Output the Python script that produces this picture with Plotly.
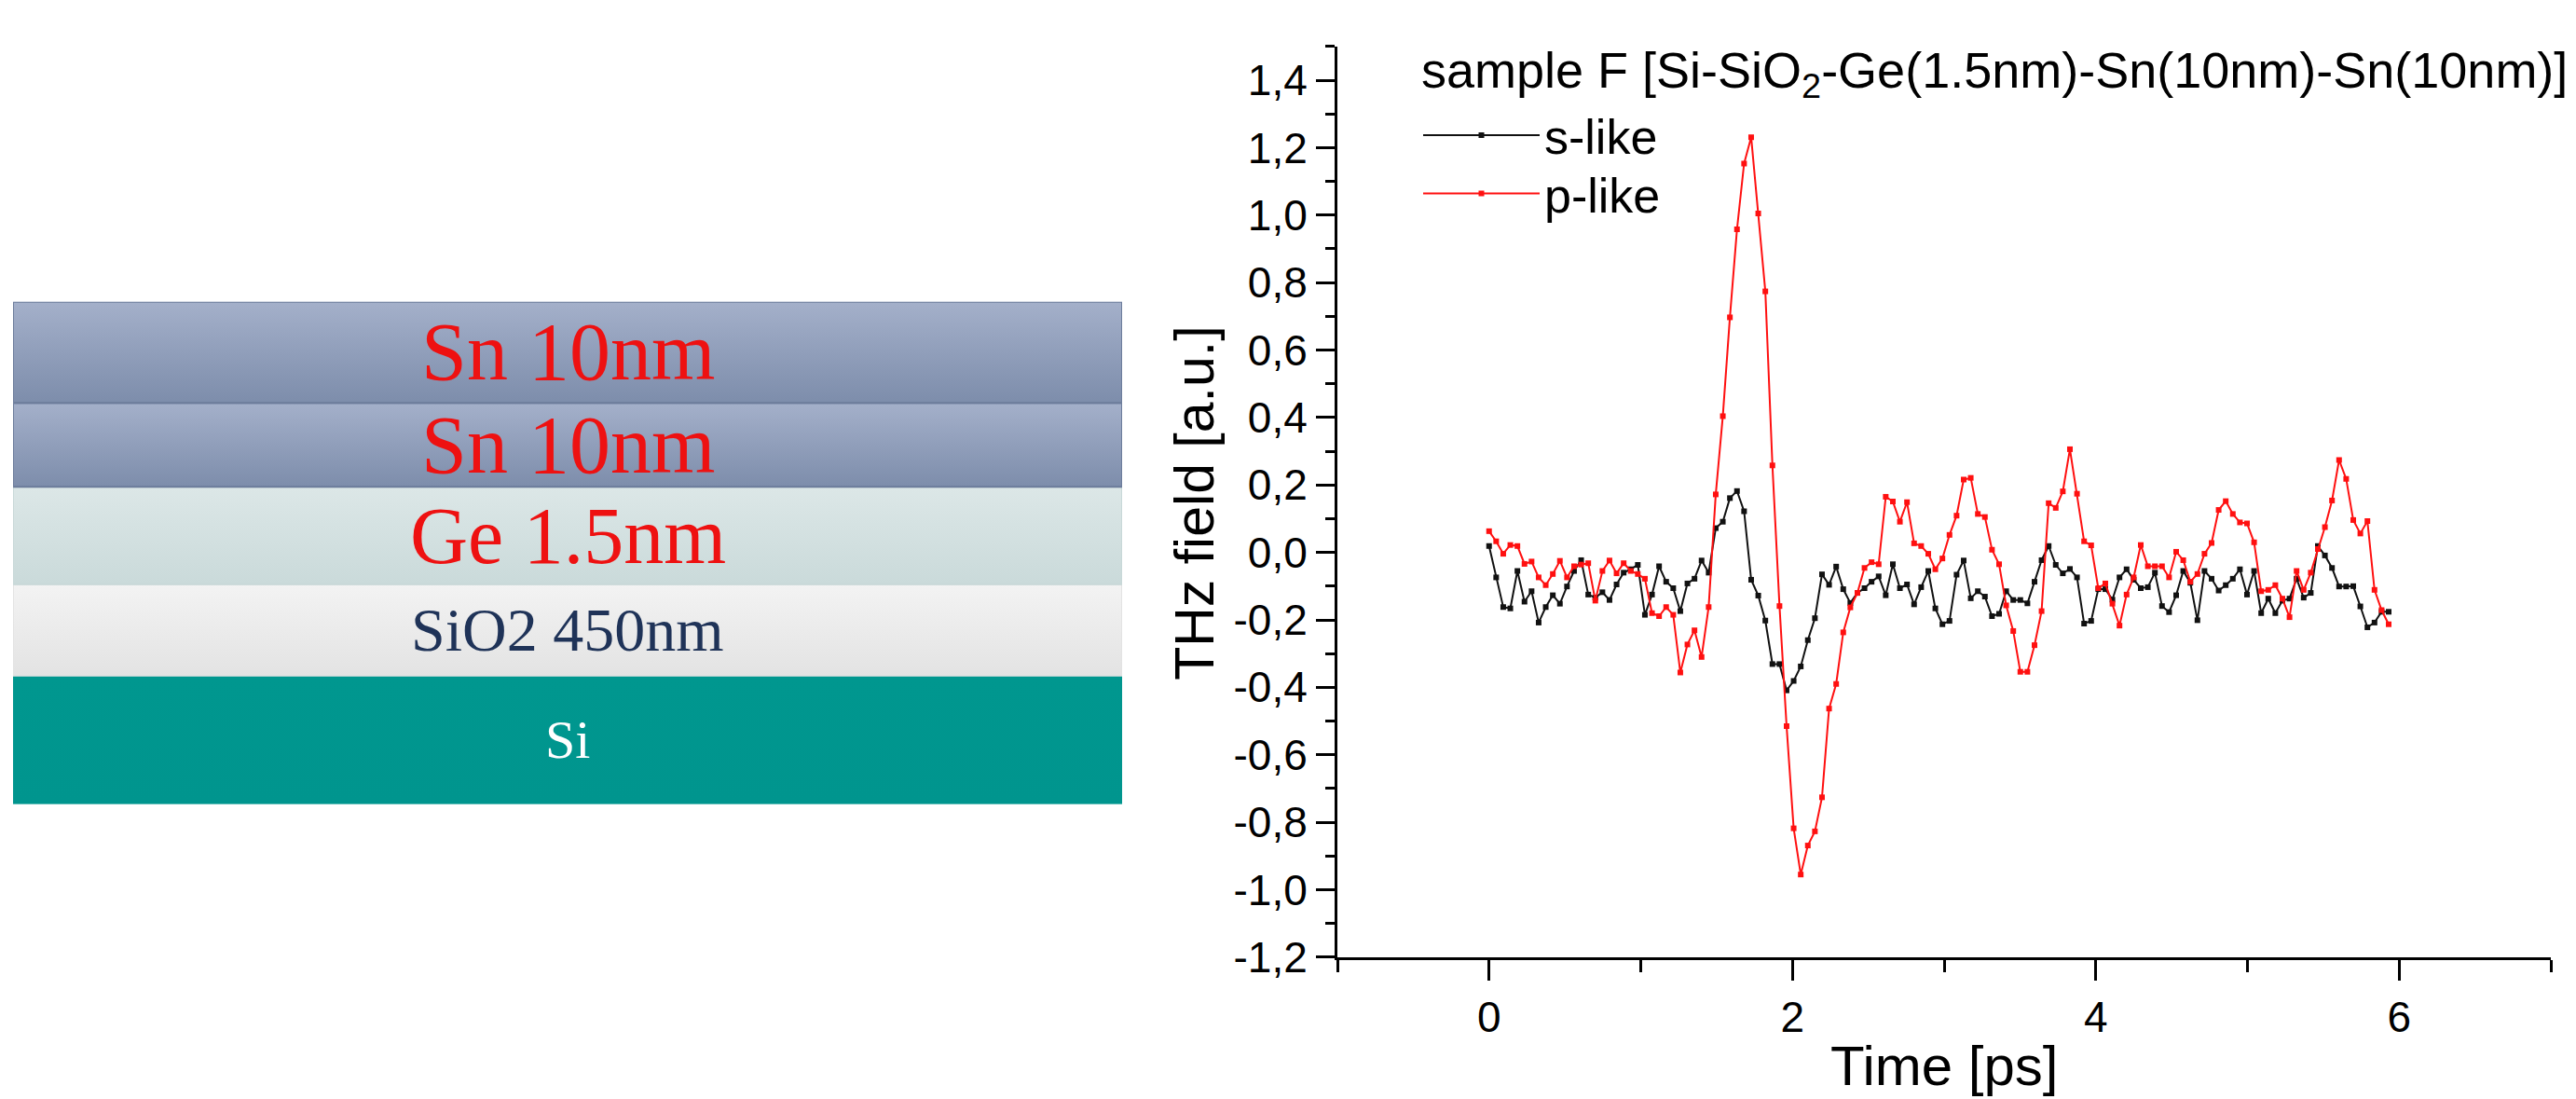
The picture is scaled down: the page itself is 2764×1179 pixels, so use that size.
import plotly.graph_objects as go

W, H = 2764, 1179

# ---------------- data ----------------
time_step_ps = 0.0467

s_like = [0.019, -0.074, -0.162, -0.166, -0.055, -0.146, -0.115, -0.208, -0.162, -0.127,
          -0.152, -0.101, -0.055, -0.023, -0.125, -0.134, -0.118, -0.141, -0.095, -0.060,
          -0.050, -0.037, -0.185, -0.125, -0.041, -0.087, -0.106, -0.174, -0.092, -0.078,
          -0.024, -0.060, 0.072, 0.091, 0.161, 0.182, 0.122, -0.081, -0.128, -0.202,
          -0.331, -0.331, -0.409, -0.381, -0.338, -0.260, -0.195, -0.065, -0.096, -0.042,
          -0.109, -0.150, -0.120, -0.106, -0.087, -0.071, -0.127, -0.035, -0.106, -0.095,
          -0.154, -0.103, -0.055, -0.166, -0.213, -0.203, -0.066, -0.024, -0.136, -0.115,
          -0.131, -0.189, -0.182, -0.115, -0.141, -0.141, -0.151, -0.087, -0.023, 0.019,
          -0.037, -0.062, -0.049, -0.074, -0.211, -0.203, -0.109, -0.109, -0.140, -0.074,
          -0.050, -0.081, -0.106, -0.103, -0.060, -0.159, -0.177, -0.127, -0.055, -0.090,
          -0.201, -0.055, -0.078, -0.113, -0.097, -0.078, -0.050, -0.125, -0.055, -0.180,
          -0.137, -0.180, -0.143, -0.137, -0.078, -0.134, -0.120, 0.019, -0.009, -0.046,
          -0.101, -0.101, -0.100, -0.160, -0.222, -0.208, -0.176, -0.176]

p_like = [0.063, 0.033, -0.004, 0.022, 0.019, -0.034, -0.027, -0.074, -0.097, -0.064,
          -0.025, -0.074, -0.041, -0.036, -0.032, -0.143, -0.055, -0.024, -0.062, -0.032,
          -0.055, -0.064, -0.078, -0.180, -0.189, -0.162, -0.185, -0.356, -0.273, -0.231,
          -0.310, -0.162, 0.172, 0.404, 0.697, 0.958, 1.153, 1.231, 1.005, 0.774,
          0.258, -0.159, -0.515, -0.818, -0.955, -0.869, -0.827, -0.726, -0.463, -0.390,
          -0.237, -0.163, -0.120, -0.046, -0.029, -0.035, 0.165, 0.151, 0.091, 0.149,
          0.027, 0.019, -0.004, -0.050, -0.018, 0.052, 0.109, 0.216, 0.221, 0.114,
          0.105, 0.008, -0.035, -0.157, -0.233, -0.354, -0.354, -0.275, -0.174, 0.146,
          0.132, 0.181, 0.306, 0.174, 0.033, 0.021, -0.106, -0.092, -0.152, -0.217,
          -0.125, -0.074, 0.022, -0.041, -0.041, -0.041, -0.074, 0.002, -0.023, -0.087,
          -0.064, -0.004, 0.028, 0.126, 0.152, 0.114, 0.089, 0.086, 0.030, -0.115,
          -0.111, -0.097, -0.137, -0.192, -0.055, -0.111, -0.060, 0.010, 0.075, 0.154,
          0.274, 0.218, 0.096, 0.056, 0.093, -0.111, -0.171, -0.213]

time_ps = [round(i * time_step_ps, 4) for i in range(len(s_like))]

y_tick_vals = [-1.2, -1.0, -0.8, -0.6, -0.4, -0.2, 0.0, 0.2, 0.4, 0.6, 0.8, 1.0, 1.2, 1.4]
y_tick_text = ["-1,2", "-1,0", "-0,8", "-0,6", "-0,4", "-0,2", "0,0",
               "0,2", "0,4", "0,6", "0,8", "1,0", "1,2", "1,4"]
y_minor_vals = [-1.1, -0.9, -0.7, -0.5, -0.3, -0.1, 0.1, 0.3, 0.5, 0.7, 0.9, 1.1, 1.3, 1.5]
x_tick_vals = [0, 2, 4, 6]
x_tick_text = ["0", "2", "4", "6"]
x_minor_vals = [-1, 1, 3, 5, 7]

chart_title = "sample F [Si-SiO<sub>2</sub>-Ge(1.5nm)-Sn(10nm)-Sn(10nm)]"
x_title = "Time [ps]"
y_title = "THz field [a.u.]"

# layer stack, bottom to top
layer_labels = ["Si", "SiO2 450nm", "Ge 1.5nm", "Sn 10nm", "Sn 10nm"]

# ---------------- styles / layout ----------------
layer_draw_px = [141, 100, 107, 92, 111]
layer_top_col = ["#00978F", "#F3F3F3", "#DCE7E7", "#A4B0CA", "#A4B0CA"]
layer_bot_col = ["#00958E", "#E3E3E3", "#CADADA", "#7D8DAB", "#7D8DAB"]
layer_line_col = ["#00958E", "#E3E3E3", "#C8D8D8", "#6C7C9B", "#6C7C9B"]
layer_txt_col = ["#FFFFFF", "#1F3358", "#EE1111", "#EE1111", "#EE1111"]
layer_txt_size = [58, 66, 86, 88, 88]

plot_l, plot_r, plot_t, plot_b = 1435, 2737, 51, 1050
diag_l, diag_r, diag_t = 14, 1204, 331
diag_b = diag_t + sum(layer_draw_px)

SANS = "Liberation Sans, Arial, sans-serif"
SERIF = "Liberation Serif, Times New Roman, serif"

def px(x):
    return x / W

def py(y):
    return (H - y) / H

fig = go.Figure()

# layer diagram on its own hidden axes
base = 0
for i, lab in enumerate(layer_labels):
    top = base + layer_draw_px[i]
    fig.add_trace(go.Scatter(
        x=[0, 1, 1, 0, 0], y=[base, base, top, top, base],
        xaxis="x2", yaxis="y2", mode="lines", fill="toself",
        fillgradient=dict(type="vertical",
                          colorscale=[[0, layer_bot_col[i]], [1, layer_top_col[i]]]),
        line=dict(color=layer_line_col[i], width=2),
        showlegend=False, hoverinfo="skip"))
    fig.add_annotation(x=0.5, y=(base + top) / 2, xref="x2", yref="y2",
                       text=lab, showarrow=False, yanchor="middle",
                       font=dict(family=SERIF, size=layer_txt_size[i], color=layer_txt_col[i]))
    base = top

# data traces
fig.add_trace(go.Scatter(x=time_ps, y=s_like, name="s-like", mode="lines+markers",
                         legend="legend",
                         line=dict(color="#111111", width=2),
                         marker=dict(color="#111111", size=6, symbol="square")))
fig.add_trace(go.Scatter(x=time_ps, y=p_like, name="p-like", mode="lines+markers",
                         legend="legend2",
                         line=dict(color="#FF1010", width=2),
                         marker=dict(color="#FF1010", size=6, symbol="square")))

axis_common = dict(showline=True, linecolor="black", linewidth=3, ticks="outside",
                   tickcolor="black", tickwidth=3, showgrid=False, zeroline=False,
                   tickfont=dict(family=SANS, size=46, color="black"))

legend_common = dict(xanchor="left", yanchor="top", itemwidth=125,
                     font=dict(family=SANS, size=52, color="black"),
                     bgcolor="rgba(0,0,0,0)")

fig.update_layout(
    width=W, height=H, margin=dict(l=0, r=0, t=0, b=0),
    paper_bgcolor="white", plot_bgcolor="white",
    xaxis=dict(domain=[px(plot_l), px(plot_r)], range=[-1, 7], anchor="y",
               tickvals=x_tick_vals, ticktext=x_tick_text, ticklen=22,
               minor=dict(tickvals=x_minor_vals, ticklen=13, tickwidth=3,
                          tickcolor="black", ticks="outside"),
               **axis_common),
    yaxis=dict(domain=[py(plot_b), py(plot_t)], range=[-1.2, 1.5], anchor="x",
               tickvals=y_tick_vals, ticktext=y_tick_text, ticklen=20,
               minor=dict(tickvals=y_minor_vals, ticklen=10, tickwidth=3,
                          tickcolor="black", ticks="outside"),
               **axis_common),
    xaxis2=dict(domain=[px(diag_l), px(diag_r)], range=[0, 1], visible=False,
                anchor="y2", fixedrange=True),
    yaxis2=dict(domain=[py(diag_b), py(diag_t)], range=[0, sum(layer_draw_px)],
                visible=False, anchor="x2", fixedrange=True),
    legend=dict(x=px(1522), y=py(107), **legend_common),
    legend2=dict(x=px(1522), y=py(171), **legend_common),
    showlegend=True,
)

fig.add_annotation(x=px(1523), y=py(81), xref="paper", yref="paper", xanchor="left",
                   yanchor="middle", text=chart_title, showarrow=False,
                   font=dict(family=SANS, size=54, color="black"))
fig.add_annotation(x=px((plot_l + plot_r) / 2), y=py(1169), xref="paper", yref="paper",
                   xanchor="center", yanchor="middle",
                   text=x_title, showarrow=False,
                   font=dict(family=SANS, size=60, color="black"))
fig.add_annotation(x=px(1282), y=py(552), xref="paper", yref="paper", textangle=-90,
                   xanchor="center", yanchor="middle",
                   text=y_title, showarrow=False,
                   font=dict(family=SANS, size=59, color="black"))

fig.write_html("out.html")
